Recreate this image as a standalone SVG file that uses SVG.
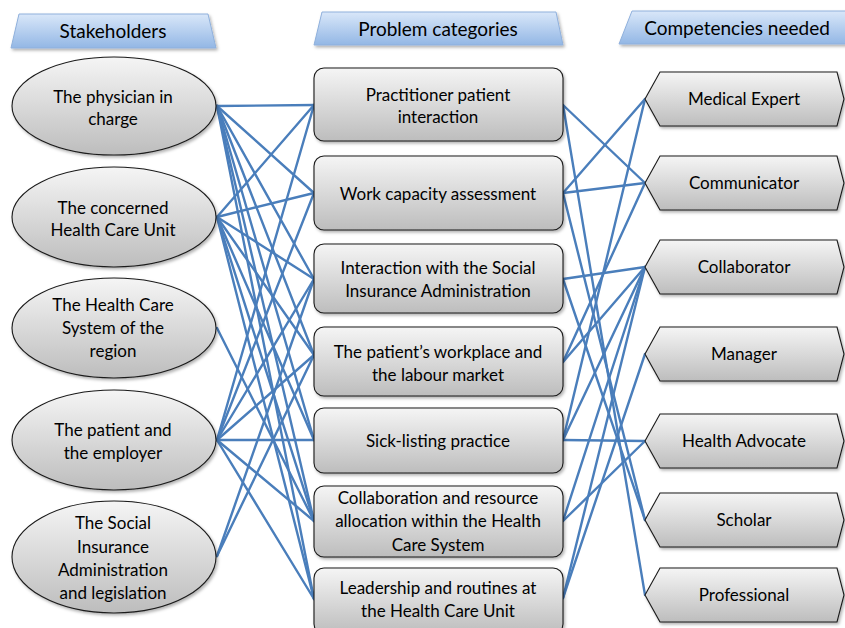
<svg xmlns="http://www.w3.org/2000/svg" width="845" height="628" viewBox="0 0 845 628">
  <defs>
    <linearGradient id="nodeFill" x1="0" y1="0" x2="0" y2="1">
      <stop offset="0" stop-color="#f5f5f5"/>
      <stop offset="1" stop-color="#bdbdbd"/>
    </linearGradient>
    <linearGradient id="headFill" x1="0" y1="0" x2="0" y2="1">
      <stop offset="0" stop-color="#d9e7f9"/>
      <stop offset="1" stop-color="#93b7e5"/>
    </linearGradient>
    <filter id="shadow" x="-10%" y="-10%" width="125%" height="130%">
      <feDropShadow dx="1.5" dy="2" stdDeviation="1.5" flood-color="#000" flood-opacity="0.3"/>
    </filter>
    <style>
      .head { fill: url(#headFill); stroke: #8fb0dc; stroke-width: 1; filter: url(#shadow); }
      .head-text { font-family: Lato, "Liberation Sans", sans-serif; font-size: 19px; fill: #000; text-anchor: middle; }
      .node { fill: url(#nodeFill); stroke: #1a1a1a; stroke-width: 1.1; filter: url(#shadow); }
      .label { font-family: Lato, "Liberation Sans", sans-serif; font-size: 17px; fill: #000; text-anchor: middle; }
      .links line { stroke: #4a7ebb; stroke-width: 2.4; stroke-linecap: round; }
    </style>
  </defs>

  <rect width="845" height="628" fill="#ffffff"/>

  <!-- column headers -->
  <g id="header-stakeholders">
    <polygon class="head" points="19,14 208,14 216,48 11,48"/>
    <text class="head-text" x="113" y="38">Stakeholders</text>
  </g>
  <g id="header-problems">
    <polygon class="head" points="322,12 556,12 563,45 314,45"/>
    <text class="head-text" x="438" y="36">Problem categories</text>
  </g>
  <g id="header-competencies">
    <polygon class="head" points="632,11 852,11 852,44 619,44"/>
    <text class="head-text" x="737" y="35">Competencies needed</text>
  </g>

  <!-- connectors -->
  <g id="connectors" class="links">
    <!-- stakeholder: physician in charge -->
    <line x1="217" y1="106" x2="314" y2="105"/>
    <line x1="217" y1="106" x2="314" y2="193"/>
    <line x1="217" y1="106" x2="314" y2="279"/>
    <line x1="217" y1="106" x2="314" y2="355"/>
    <line x1="217" y1="106" x2="314" y2="440"/>
    <line x1="217" y1="106" x2="314" y2="521"/>
    <line x1="217" y1="106" x2="314" y2="599"/>
    <!-- stakeholder: concerned health care unit -->
    <line x1="217" y1="217" x2="314" y2="105"/>
    <line x1="217" y1="217" x2="314" y2="193"/>
    <line x1="217" y1="217" x2="314" y2="279"/>
    <line x1="217" y1="217" x2="314" y2="355"/>
    <line x1="217" y1="217" x2="314" y2="440"/>
    <line x1="217" y1="217" x2="314" y2="521"/>
    <line x1="217" y1="217" x2="314" y2="599"/>
    <!-- stakeholder: health care system of the region -->
    <line x1="217" y1="328" x2="314" y2="521"/>
    <!-- stakeholder: patient and employer -->
    <line x1="217" y1="440" x2="314" y2="105"/>
    <line x1="217" y1="440" x2="314" y2="193"/>
    <line x1="217" y1="440" x2="314" y2="279"/>
    <line x1="217" y1="440" x2="314" y2="355"/>
    <line x1="217" y1="440" x2="314" y2="440"/>
    <line x1="217" y1="440" x2="314" y2="521"/>
    <line x1="217" y1="440" x2="314" y2="599"/>
    <!-- stakeholder: social insurance administration -->
    <line x1="217" y1="556" x2="314" y2="279"/>
    <line x1="217" y1="556" x2="314" y2="355"/>

    <!-- problem categories to competencies -->
    <line x1="563" y1="105" x2="645" y2="183"/>
    <line x1="563" y1="105" x2="645" y2="595"/>
    <line x1="563" y1="193" x2="645" y2="99"/>
    <line x1="563" y1="193" x2="645" y2="183"/>
    <line x1="563" y1="193" x2="645" y2="520"/>
    <line x1="563" y1="279" x2="645" y2="267"/>
    <line x1="563" y1="279" x2="645" y2="520"/>
    <line x1="563" y1="362" x2="645" y2="183"/>
    <line x1="563" y1="362" x2="645" y2="267"/>
    <line x1="563" y1="440" x2="645" y2="99"/>
    <line x1="563" y1="440" x2="645" y2="267"/>
    <line x1="563" y1="440" x2="645" y2="441"/>
    <line x1="563" y1="521" x2="645" y2="267"/>
    <line x1="563" y1="521" x2="645" y2="441"/>
    <line x1="563" y1="598" x2="645" y2="267"/>
    <line x1="563" y1="598" x2="645" y2="354"/>
  </g>

  <!-- stakeholders -->
  <g id="s-physician">
    <ellipse class="node" cx="114" cy="106" rx="102" ry="49"/>
    <text class="label" x="113" y="103">The physician in</text>
    <text class="label" x="113" y="125">charge</text>
  </g>
  <g id="s-health-care-unit">
    <ellipse class="node" cx="114" cy="217" rx="102" ry="50"/>
    <text class="label" x="113" y="214">The concerned</text>
    <text class="label" x="113" y="236">Health Care Unit</text>
  </g>
  <g id="s-health-care-system">
    <ellipse class="node" cx="114" cy="328" rx="102" ry="50"/>
    <text class="label" x="113" y="311">The Health Care</text>
    <text class="label" x="113" y="334">System of the</text>
    <text class="label" x="113" y="357">region</text>
  </g>
  <g id="s-patient-employer">
    <ellipse class="node" cx="114" cy="440" rx="102" ry="50"/>
    <text class="label" x="113" y="436">The patient and</text>
    <text class="label" x="113" y="459">the employer</text>
  </g>
  <g id="s-social-insurance">
    <ellipse class="node" cx="114" cy="557" rx="102" ry="56"/>
    <text class="label" x="113" y="529">The Social</text>
    <text class="label" x="113" y="553">Insurance</text>
    <text class="label" x="113" y="576">Administration</text>
    <text class="label" x="113" y="599">and legislation</text>
  </g>

  <!-- problem categories -->
  <g id="p-practitioner">
    <rect class="node" x="314" y="68" width="249" height="73" rx="10"/>
    <text class="label" x="438" y="101">Practitioner patient</text>
    <text class="label" x="438" y="123">interaction</text>
  </g>
  <g id="p-work-capacity">
    <rect class="node" x="314" y="156" width="249" height="74" rx="10"/>
    <text class="label" x="438" y="200">Work capacity assessment</text>
  </g>
  <g id="p-social-insurance">
    <rect class="node" x="314" y="244" width="249" height="69" rx="10"/>
    <text class="label" x="438" y="274">Interaction with the Social</text>
    <text class="label" x="438" y="297">Insurance Administration</text>
  </g>
  <g id="p-workplace">
    <rect class="node" x="314" y="327" width="249" height="69" rx="10"/>
    <text class="label" x="438" y="358">The patient’s workplace and</text>
    <text class="label" x="438" y="381">the labour market</text>
  </g>
  <g id="p-sick-listing">
    <rect class="node" x="314" y="408" width="249" height="65" rx="10"/>
    <text class="label" x="438" y="447">Sick-listing practice</text>
  </g>
  <g id="p-collaboration">
    <rect class="node" x="314" y="486" width="249" height="71" rx="10"/>
    <text class="label" x="438" y="504">Collaboration and resource</text>
    <text class="label" x="438" y="527">allocation within the Health</text>
    <text class="label" x="438" y="551">Care System</text>
  </g>
  <g id="p-leadership">
    <rect class="node" x="314" y="568" width="249" height="66" rx="10"/>
    <text class="label" x="438" y="594">Leadership and routines at</text>
    <text class="label" x="438" y="617">the Health Care Unit</text>
  </g>

  <!-- competencies -->
  <g id="c-medical-expert">
    <polygon class="node" points="645,99 660,72 837,72 844,99 837,126 660,126"/>
    <text class="label" x="744" y="105">Medical Expert</text>
  </g>
  <g id="c-communicator">
    <polygon class="node" points="645,183 660,156 837,156 844,183 837,210 660,210"/>
    <text class="label" x="744" y="189">Communicator</text>
  </g>
  <g id="c-collaborator">
    <polygon class="node" points="645,267 660,240 837,240 844,267 837,294 660,294"/>
    <text class="label" x="744" y="273">Collaborator</text>
  </g>
  <g id="c-manager">
    <polygon class="node" points="645,354 660,327 837,327 844,354 837,381 660,381"/>
    <text class="label" x="744" y="360">Manager</text>
  </g>
  <g id="c-health-advocate">
    <polygon class="node" points="645,441 660,414 837,414 844,441 837,468 660,468"/>
    <text class="label" x="744" y="447">Health Advocate</text>
  </g>
  <g id="c-scholar">
    <polygon class="node" points="645,520 660,493 837,493 844,520 837,547 660,547"/>
    <text class="label" x="744" y="526">Scholar</text>
  </g>
  <g id="c-professional">
    <polygon class="node" points="645,595 660,568 837,568 844,595 837,622 660,622"/>
    <text class="label" x="744" y="601">Professional</text>
  </g>
</svg>
